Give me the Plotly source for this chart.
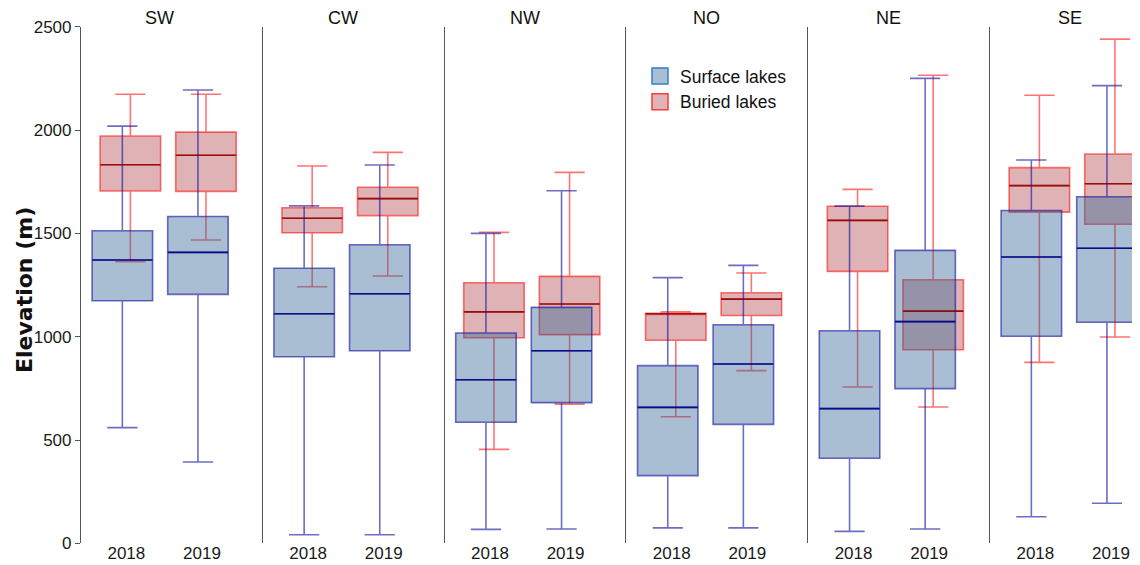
import plotly.graph_objects as go

regions = ["SW", "CW", "NW", "NO", "NE", "SE"]
years = ["2018", "2019"]

# Surface lakes: [2018, 2019] per region
surface_lo = [[560, 394], [42, 42], [68, 70], [75, 75], [58, 70], [129, 194]]
surface_q1 = [[1174, 1205], [903, 932], [586, 681], [328, 576], [412, 749], [1002, 1070]]
surface_med = [[1371, 1408], [1111, 1208], [792, 932], [658, 868], [652, 1073], [1386, 1428]]
surface_q3 = [[1513, 1582], [1331, 1445], [1018, 1142], [860, 1058], [1029, 1418], [1611, 1677]]
surface_hi = [[2019, 2194], [1633, 1831], [1500, 1706], [1286, 1345], [1632, 2250], [1855, 2215]]

# Buried lakes
buried_lo = [[1363, 1468], [1242, 1294], [455, 674], [613, 836], [757, 660], [876, 999]]
buried_q1 = [[1705, 1703], [1503, 1586], [995, 1010], [983, 1103], [1316, 937], [1603, 1544]]
buried_med = [[1832, 1878], [1573, 1668], [1120, 1158], [1111, 1182], [1563, 1124], [1731, 1740]]
buried_q3 = [[1971, 1990], [1624, 1723], [1261, 1292], [1113, 1213], [1631, 1276], [1818, 1884]]
buried_hi = [[2173, 2173], [1826, 1892], [1505, 1795], [1120, 1308], [1713, 2265], [2168, 2440]]

yticks = [0, 500, 1000, 1500, 2000, 2500]

# page body has an 8px default margin; the figure fills the rest of the window
OX, OY = 8, 8
SW_, SH_ = 1140, 565
W, H = SW_ - OX, SH_ - OY
FONT = "Liberation Sans, Arial, sans-serif"


def fx(px):
    return (px - OX) / W


def fy(py):
    return (H - (py - OY)) / H


surf_fill = "rgba(50,100,150,0.42)"
surf_line = "rgba(20,20,160,0.62)"
surf_med_c = "rgba(0,0,130,0.85)"
bur_fill = "rgba(165,45,50,0.36)"
bur_line = "rgba(255,0,0,0.55)"
bur_med_c = "rgba(125,0,0,0.8)"
surf_key_line = "#3a7ec8"
bur_key_line = "#ff3b3b"

dodge = 0.053
bw = 0.8
unit_px = 75.6
panel_step = 181.8
panel_left0 = 81.0
y_bot_px, y_top_px = 543.4, 26.7
title_shift = [-4.5, -3, -3, -3, -3, -3]

fig = go.Figure()
layout = {}
annotations = []

for i, reg in enumerate(regions):
    n = i + 1
    xa = "x" if n == 1 else f"x{n}"
    ya = "y" if n == 1 else f"y{n}"
    cats = [1, 2]
    left = panel_left0 + panel_step * i
    right = min(left + 2.2 * unit_px, SW_)
    rng_hi = 0.4 + (right - left) / unit_px

    # buried drawn first (below), surface on top
    xb = [c + dodge for c in cats]
    fig.add_trace(go.Box(
        x=xb, q1=buried_q1[i], median=buried_med[i], q3=buried_q3[i],
        lowerfence=buried_lo[i], upperfence=buried_hi[i],
        width=bw, whiskerwidth=0.5, boxpoints=False,
        fillcolor=bur_fill, line=dict(color=bur_line, width=1.6),
        name="Buried lakes", showlegend=False,
        xaxis=xa, yaxis=ya, hoverinfo="skip"))
    mx, my = [], []
    for c, m in zip(xb, buried_med[i]):
        mx += [c - bw / 2, c + bw / 2, None]
        my += [m, m, None]
    fig.add_trace(go.Scatter(x=mx, y=my, mode="lines",
                             line=dict(color=bur_med_c, width=1.6),
                             showlegend=False, xaxis=xa, yaxis=ya, hoverinfo="skip"))

    xs = [c - dodge for c in cats]
    fig.add_trace(go.Box(
        x=xs, q1=surface_q1[i], median=surface_med[i], q3=surface_q3[i],
        lowerfence=surface_lo[i], upperfence=surface_hi[i],
        width=bw, whiskerwidth=0.5, boxpoints=False,
        fillcolor=surf_fill, line=dict(color=surf_line, width=1.6),
        name="Surface lakes", showlegend=False,
        xaxis=xa, yaxis=ya, hoverinfo="skip"))
    mx, my = [], []
    for c, m in zip(xs, surface_med[i]):
        mx += [c - bw / 2, c + bw / 2, None]
        my += [m, m, None]
    fig.add_trace(go.Scatter(x=mx, y=my, mode="lines",
                             line=dict(color=surf_med_c, width=1.6),
                             showlegend=False, xaxis=xa, yaxis=ya, hoverinfo="skip"))

    xkey = "xaxis" if n == 1 else f"xaxis{n}"
    ykey = "yaxis" if n == 1 else f"yaxis{n}"
    layout[xkey] = dict(
        domain=[max(fx(left), 0), min(fx(right), 1)], range=[0.4, rng_hi],
        tickvals=cats, ticktext=years, showgrid=False, zeroline=False,
        showline=False, ticks="", anchor=ya, automargin=False,
        ticklabelstandoff=-2,
        tickfont=dict(family=FONT, size=17, color="#1a1a1a"))
    ydom = [fy(y_bot_px), fy(y_top_px)]
    if n == 1:
        layout[ykey] = dict(
            domain=ydom, range=[0, 2500], tickvals=yticks,
            showgrid=False, zeroline=False, showline=True,
            linecolor="#555", linewidth=1.2, ticks="outside", ticklen=5,
            tickcolor="#555", tickwidth=1, anchor=xa, automargin=False,
            tickfont=dict(family=FONT, size=17, color="#1a1a1a"))
    else:
        layout[ykey] = dict(
            domain=ydom, range=[0, 2500], showticklabels=False,
            showgrid=False, zeroline=False, showline=True,
            linecolor="#555", linewidth=1.2, ticks="", anchor=xa,
            automargin=False, matches="y")
    annotations.append(dict(
        text=reg, x=fx(left + 2.2 * unit_px / 2 + title_shift[i]), y=fy(18),
        xref="paper", yref="paper", showarrow=False,
        xanchor="center", yanchor="middle",
        font=dict(family=FONT, size=18, color="#111")))

# legend-only entries
fig.add_trace(go.Scatter(
    x=[None], y=[None], mode="markers", name="Surface lakes",
    marker=dict(symbol="square", size=20, color=surf_fill,
                line=dict(color=surf_key_line, width=1.5)),
    legendrank=1, hoverinfo="skip"))
fig.add_trace(go.Scatter(
    x=[None], y=[None], mode="markers", name="Buried lakes",
    marker=dict(symbol="square", size=20, color=bur_fill,
                line=dict(color=bur_key_line, width=1.5)),
    legendrank=2, hoverinfo="skip"))

annotations.append(dict(
    text="<b>Elevation (m)</b>", x=fx(24), y=fy(290),
    xref="paper", yref="paper", showarrow=False, textangle=-90,
    xanchor="center", yanchor="middle",
    font=dict(family="DejaVu Sans, sans-serif", size=22, color="#111")))

fig.update_layout(
    width=W, height=H,
    margin=dict(l=0, r=0, t=0, b=0, autoexpand=False),
    paper_bgcolor="white", plot_bgcolor="white",
    boxmode="overlay",
    showlegend=True,
    legend=dict(x=fx(640), y=fy(58), xanchor="left", yanchor="top",
                bgcolor="rgba(0,0,0,0)", tracegroupgap=4,
                font=dict(family=FONT, size=17.5, color="#111"),
                itemwidth=30),
    annotations=annotations,
    **layout)

fig.write_html("out.html")
